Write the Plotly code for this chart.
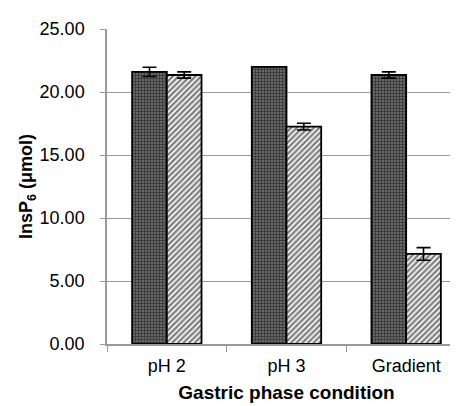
import plotly.graph_objects as go

categories = ["pH 2", "pH 3", "Gradient"]
series_a = [21.6, 22.0, 21.35]
series_a_err = [0.37, 0.0, 0.25]
series_b = [21.35, 17.25, 7.15]
series_b_err = [0.25, 0.27, 0.5]
y_ticks = [0, 5, 10, 15, 20, 25]
y_tick_labels = ["0.00", "5.00", "10.00", "15.00", "20.00", "25.00"]

fig = go.Figure()
fig.add_trace(go.Bar(
    x=categories, y=series_a,
    error_y=dict(type="data", array=series_a_err, color="black", thickness=1.6, width=7),
    marker=dict(color="#444444", line=dict(color="black", width=1.8),
                pattern=dict(shape="+", fgcolor="#111111", bgcolor="#6a6a6a", size=3, solidity=0.6)),
    showlegend=False,
))
fig.add_trace(go.Bar(
    x=categories, y=series_b,
    error_y=dict(type="data", array=series_b_err, color="black", thickness=1.6, width=7),
    marker=dict(color="white", line=dict(color="black", width=1.8),
                pattern=dict(shape="/", fgcolor="black", bgcolor="white", size=4, solidity=0.6)),
    showlegend=False,
))

font = "Liberation Sans, Arial, sans-serif"
fig.update_layout(
    width=458, height=406,
    margin=dict(l=99, r=0, t=21, b=70),
    paper_bgcolor="white", plot_bgcolor="white",
    barmode="group", bargap=0.42, bargroupgap=0,
    font=dict(family=font, color="black", size=18),
    xaxis=dict(
        type="category", range=[-0.5, 2.5],
        showline=True, linecolor="#999999", linewidth=1.5,
        ticks="outside", tickson="boundaries", ticklen=6, tickcolor="#999999",
        tickfont=dict(size=18), ticklabelstandoff=5,
        title=dict(text="<b>Gastric phase condition</b>", font=dict(size=19), standoff=10),
        automargin=False,
    ),
    yaxis=dict(
        range=[0, 25], tickvals=y_ticks, ticktext=y_tick_labels,
        showline=True, linecolor="#999999", linewidth=1.5,
        ticks="outside", ticklen=5, tickcolor="#999999",
        showgrid=True, gridcolor="#999999", gridwidth=1.2,
        zeroline=False,
        tickfont=dict(size=18), ticklabelstandoff=12,
        title=dict(text="<b>InsP<sub>6</sub> (μmol)</b>", font=dict(size=18), standoff=2),
        automargin=False,
    ),
)

fig.write_html("out.html")
